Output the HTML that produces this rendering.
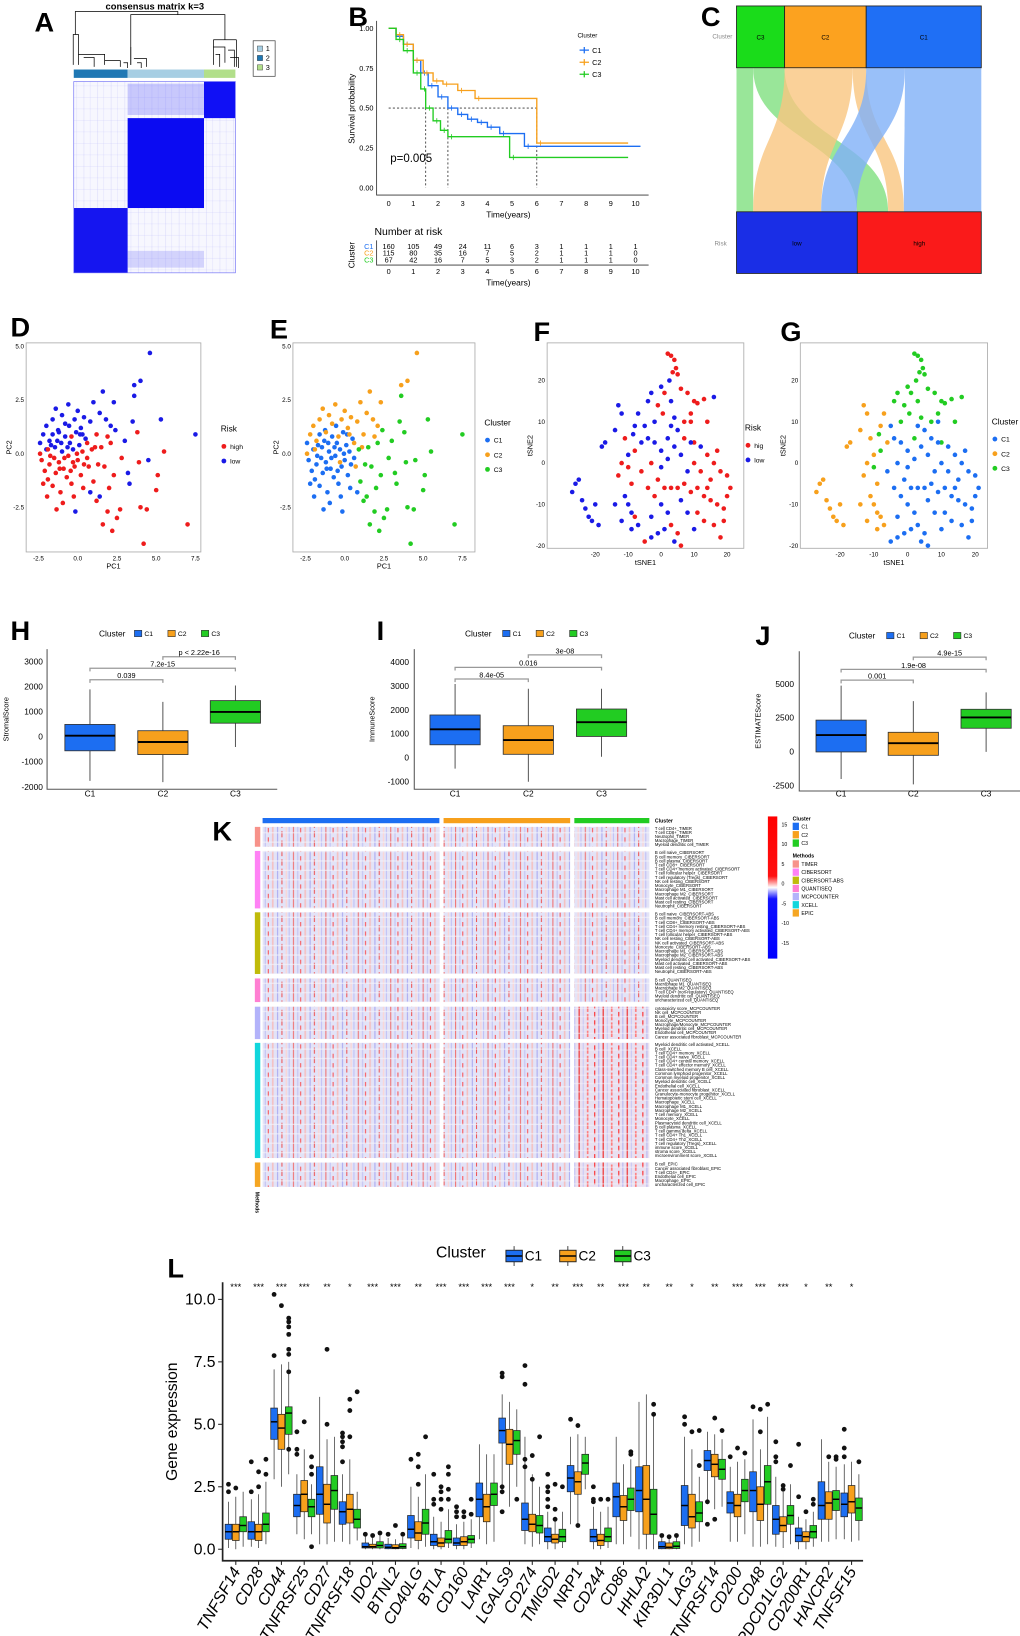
<!DOCTYPE html>
<html><head><meta charset="utf-8">
<style>
html,body{margin:0;padding:0;background:#fff;}
svg{display:block;}
text{font-family:"Liberation Sans",sans-serif;}
.n{font-family:"Liberation Sans Narrow","Liberation Sans",sans-serif;}
.lt{font-weight:bold;font-family:"Liberation Sans",sans-serif;}
</style></head>
<body>
<svg id="fig" xmlns="http://www.w3.org/2000/svg" width="1020" height="1636" viewBox="0 0 975 1565" preserveAspectRatio="none">
<defs>
<pattern id="hmA" width="13" height="11" patternUnits="userSpaceOnUse">
<rect width="13" height="11" fill="#f7f7fe"/>
<rect x="2" width="0.5" height="11" fill="#9d9df6" opacity="0.35"/>
<rect x="8" width="0.4" height="11" fill="#b5b5fa" opacity="0.4"/>
<rect y="5" width="13" height="0.4" fill="#a9a9f7" opacity="0.35"/>
</pattern>
<pattern id="hmK" width="31" height="9" patternUnits="userSpaceOnUse">
<rect width="31" height="9" fill="#e3e3f7"/>
<rect x="1" width="1" height="9" fill="#f07070"/>
<rect x="5" width="1.2" height="9" fill="#c6c6f4"/>
<rect x="8" y="0" width="0.8" height="5" fill="#ff3030"/>
<rect x="12" width="1.5" height="9" fill="#f5c0c0"/>
<rect x="17" width="0.8" height="9" fill="#9a9af0"/>
<rect x="21" y="3" width="1" height="6" fill="#ee5555"/>
<rect x="25" width="1.3" height="9" fill="#fbd6d6"/>
<rect x="28" width="0.7" height="9" fill="#b0b0f5"/>
<rect y="4" width="31" height="1.2" fill="#f4f4fc" opacity="0.7"/>
</pattern>
<pattern id="hmK3" width="23" height="8" patternUnits="userSpaceOnUse">
<rect width="23" height="8" fill="#e9e0f0"/>
<rect x="1" width="1.2" height="8" fill="#f03a3a"/>
<rect x="5" width="1" height="8" fill="#c8c8f6"/>
<rect x="9" y="2" width="1.5" height="6" fill="#f77"/>
<rect x="16" width="1" height="5" fill="#ff2020"/>
<rect x="20" width="0.8" height="8" fill="#a8a8f2"/>
<rect y="4" width="23" height="1" fill="#f4f4fc" opacity="0.6"/>
</pattern>
<linearGradient id="cbar" x1="0" y1="0" x2="0" y2="1">
<stop offset="0" stop-color="#ff0000"/><stop offset="0.42" stop-color="#ff1010"/>
<stop offset="0.5" stop-color="#ffffff"/><stop offset="0.58" stop-color="#1010ff"/>
<stop offset="1" stop-color="#0000ff"/>
</linearGradient>
</defs>

<!-- Panel A -->
<g id="pA">
<text class="n" x="148" y="9" font-size="9" text-anchor="middle" font-weight="bold">consensus matrix k=3</text>
<g stroke="#000" stroke-width="0.7" fill="none">
<path d="M72 33 V11 H170 V14"/>
<path d="M125 62 V14 H215 V38"/>
<path d="M72 33 H75 V62 M72 33 H70 V62 M75 52 H100 V62 M80 55 H90 V64 M100 58 H115 V64 M118 60 H122 V65"/>
<path d="M125 45 V62 M128 56 H140 V64 M131 60 H135 V65"/>
<path d="M204 38 H226 M204 38 V62 M226 38 V64 M204 45 H215 V60 M206 52 H210 V64 M218 48 H224 V64 M220 55 H228 V65"/>
</g>
<rect x="70.5" y="66.5" width="51.5" height="8" fill="#1f78b4"/>
<rect x="122" y="66.5" width="73" height="8" fill="#a6cee3"/>
<rect x="195" y="66.5" width="30" height="8" fill="#b2df8a"/>
<rect x="70.5" y="78" width="154.5" height="183" fill="url(#hmA)"/>
<rect x="122" y="80" width="73" height="30" fill="#7070f8" opacity="0.35"/>
<rect x="195" y="78" width="30" height="35" fill="#1010f5"/>
<rect x="122" y="113" width="73" height="86" fill="#0b0bf2"/>
<rect x="70.5" y="199" width="51.5" height="62" fill="#1515f0"/>
<rect x="122" y="240" width="73" height="16" fill="#8080f8" opacity="0.3"/>
<rect x="70.5" y="78" width="154.5" height="183" fill="none" stroke="#6a6af5" stroke-width="0.6"/>
<rect x="242" y="39" width="21" height="34" fill="#fff" stroke="#444" stroke-width="0.7"/>
<rect x="246" y="44" width="5" height="5" fill="#a6cee3" stroke="#333" stroke-width="0.4"/>
<text class="n" x="254" y="49" font-size="7">1</text>
<rect x="246" y="53" width="5" height="5" fill="#1f78b4" stroke="#333" stroke-width="0.4"/>
<text class="n" x="254" y="58" font-size="7">2</text>
<rect x="246" y="62" width="5" height="5" fill="#b2df8a" stroke="#333" stroke-width="0.4"/>
<text class="n" x="254" y="67" font-size="7">3</text>
</g>

<!-- Panel C alluvial -->
<g id="pC">
<text x="681" y="37" font-size="6" fill="#888">Cluster</text>
<text x="683" y="235" font-size="6" fill="#888">Risk</text>
</g>

<g id="pB"></g>
<g id="pScatter"></g>
<g id="pBox"></g>
<g id="pK"></g>
<g id="pL"></g>

<!-- panel letters -->
<text class="lt" x="33" y="30" font-size="26">A</text>
<text class="lt" x="333" y="25" font-size="26">B</text>
<text class="lt" x="670" y="25" font-size="26">C</text>
<text class="lt" x="10" y="322" font-size="26">D</text>
<text class="lt" x="258" y="324" font-size="26">E</text>
<text class="lt" x="510" y="326" font-size="26">F</text>
<text class="lt" x="746" y="326" font-size="26">G</text>
<text class="lt" x="10" y="612" font-size="26">H</text>
<text class="lt" x="360" y="612" font-size="26">I</text>
<text class="lt" x="722" y="617" font-size="26">J</text>
<text class="lt" x="203" y="804" font-size="26">K</text>
<text class="lt" x="160" y="1222" font-size="26">L</text>
</svg>

<script>
const NS="http://www.w3.org/2000/svg";
function mk(tag,attrs,parent){const e=document.createElementNS(NS,tag);for(const k in attrs)e.setAttribute(k,attrs[k]);parent.appendChild(e);return e;}
function tx(parent,x,y,s,attrs){const e=mk('text',Object.assign({x:x,y:y},attrs||{}),parent);e.textContent=s;return e;}
const COL={1:'#1c6ef2',2:'#f7a01c',3:'#22cc22'};

/* ===== Panel C data ===== */
const topBoxes=[['C3',704,750,'#1adc1a'],['C2',750,828,'#fca21f'],['C1',828,938,'#1f6ff5']];
const botBoxes=[['low',704,819.5,'#1a2ee6'],['high',819.5,938,'#fa1a1a']];
const flows=[[704,720,704,720,'#7fe07f'],[720,750,819,849,'#7fe07f'],[750,815,720,785,'#f9c680'],[815,828,849,864,'#f9c680'],[828,865,785,819,'#7fb0f7'],[865,938,864,938,'#7fb0f7']];
(function(){
const g=document.getElementById('pC');
flows.forEach(f=>{const yt=64.8,yb=202.6,ym=(yt+yb)/2;
const p=mk('path',{d:`M${f[0]} ${yt} C${f[0]} ${ym} ${f[2]} ${ym} ${f[2]} ${yb} L${f[3]} ${yb} C${f[3]} ${ym} ${f[1]} ${ym} ${f[1]} ${yt} Z`,fill:f[4],opacity:0.8},g);

});
topBoxes.forEach(b=>{const r=mk('rect',{x:b[1],y:5.7,width:b[2]-b[1],height:59.1,fill:b[3],stroke:'#222','stroke-width':0.8},g);


const t=tx(g,(b[1]+b[2])/2,38,b[0],{'font-size':6,'text-anchor':'middle'});

});
botBoxes.forEach(b=>{const r=mk('rect',{x:b[1],y:202.6,width:b[2]-b[1],height:59,fill:b[3],stroke:'#222','stroke-width':0.8},g);


const t=tx(g,(b[1]+b[2])/2,235,b[0],{'font-size':6,'text-anchor':'middle'});

});
})();

/* ===== Panel B data ===== */
const kmTimeC1=[0,0.3,0.6,1,1.3,1.6,2,2.4,2.8,3.2,3.6,4,4.5,5.5,10.2];
const kmSurvC1=[1,0.95,0.9,0.8,0.72,0.64,0.57,0.5,0.46,0.43,0.41,0.38,0.34,0.26,0.26];
const kmTimeC2=[0,0.3,0.6,1,1.4,1.8,2.2,2.8,3.5,6,9.7];
const kmSurvC2=[1,0.96,0.9,0.8,0.72,0.67,0.65,0.61,0.56,0.28,0.28];
const kmTimeC3=[0,0.3,0.6,1,1.3,1.5,1.8,2.1,2.4,4.9,9.7];
const kmSurvC3=[1,0.93,0.86,0.72,0.62,0.5,0.42,0.36,0.32,0.19,0.19];
const kmXTicks=[0,1,2,3,4,5,6,7,8,9,10];
const kmYTicks=[0,0.25,0.5,0.75,1];
const riskC1=[160,105,49,24,11,6,3,1,1,1,1];
const riskC2=[115,80,35,16,7,5,2,1,1,1,0];
const riskC3=[67,42,16,7,5,3,2,1,1,1,0];
const medians=[1.5,2.4,6];
(function(){
const g=document.getElementById('pB');
const xB=t=>371.5+t*23.6, yB=s=>179.6-s*152.5;
let a=mk('path',{d:'M360 20 V186.6 H620',stroke:'#333',fill:'none','stroke-width':0.8},g);


kmYTicks.forEach(v=>{const t=tx(g,357,yB(v)+2.5,v.toFixed(2),{class:'n','font-size':7,'text-anchor':'end'});

});
kmXTicks.forEach(v=>{const t=tx(g,xB(v),197,String(v),{class:'n','font-size':7,'text-anchor':'middle'});


const t2=tx(g,xB(v),262,String(v),{class:'n','font-size':7,'text-anchor':'middle'});

});
let t=tx(g,486,208,'Time(years)',{class:'n','font-size':8,'text-anchor':'middle'});


t=tx(g,486,273,'Time(years)',{class:'n','font-size':8,'text-anchor':'middle'});


t=tx(g,0,0,'Survival probability',{'font-size':8,'text-anchor':'middle',transform:'translate(339,104) rotate(-90)'});


let d='M'+xB(0)+' '+yB(0.5)+' H'+xB(6);
medians.forEach(m=>{d+=' M'+xB(m)+' '+yB(0.5)+' V'+yB(0);});
a=mk('path',{d:d,stroke:'#333','stroke-dasharray':'2,2',fill:'none','stroke-width':0.8},g);


[[kmTimeC1,kmSurvC1,1],[kmTimeC2,kmSurvC2,2],[kmTimeC3,kmSurvC3,3]].forEach(s=>{
let p='M'+xB(s[0][0])+' '+yB(s[1][0]);
for(let i=1;i<s[0].length;i++){p+=' H'+xB(s[0][i])+' V'+yB(s[1][i]);}
const l=mk('path',{d:p,stroke:COL[s[2]],fill:'none','stroke-width':1.3},g);


for(let i=1;i<s[0].length-1;i++){const c=mk('path',{d:`M${xB(s[0][i]+0.15)} ${yB(s[1][i])-2.5} v5`,stroke:COL[s[2]],'stroke-width':0.8},g);

}
});
t=tx(g,373,155,'p=0.005',{class:'n','font-size':11});


t=tx(g,552,36,'Cluster',{class:'n','font-size':6});


[1,2,3].forEach((c,i)=>{const y=48+i*11.5;
const l=mk('path',{d:`M554 ${y} h9 M558.5 ${y-3} v6`,stroke:COL[c],'stroke-width':1.2},g);


const tt=tx(g,566,y+2.5,'C'+c,{class:'n','font-size':7});

});
t=tx(g,358,225,'Number at risk',{class:'n','font-size':10});


t=tx(g,0,0,'Cluster',{'font-size':8,'text-anchor':'middle',transform:'translate(339,244) rotate(-90)'});


a=mk('path',{d:'M360 230 V253.6 H620',stroke:'#333',fill:'none','stroke-width':0.8},g);


[riskC1,riskC2,riskC3].forEach((row,ri)=>{const y=238+ri*6.5;
const lab=tx(g,357,y,'C'+(ri+1),{class:'n','font-size':7,'text-anchor':'end',fill:COL[ri+1]});


row.forEach((v,i)=>{const tt=tx(g,xB(kmXTicks[i]),y,String(v),{class:'n','font-size':7,'text-anchor':'middle'});

});});
})();

/* ===== Scatter data: [x, y, risk(h/l), cluster] ===== */
const pcaPoints=[
[-2.3,-0.3,'h',1],[-2.1,-0.8,'h',1],[-2.0,0.2,'l',1],[-1.9,-1.2,'h',1],[-1.8,-0.5,'h',1],[-1.7,0.4,'l',1],[-1.6,-1.5,'h',1],[-1.5,-0.2,'h',1],[-1.4,-0.9,'h',1],[-1.3,0.6,'l',1],
[-1.2,-0.4,'h',1],[-1.1,-1.8,'h',1],[-1.0,0.1,'l',1],[-0.9,-0.7,'h',1],[-0.8,0.8,'l',1],[-0.7,-1.1,'h',1],[-0.6,-0.1,'h',1],[-0.5,0.5,'l',1],[-0.4,-1.4,'h',1],[-0.3,0.2,'l',1],
[-0.2,-0.6,'h',1],[-0.1,1.0,'l',1],[0.0,-0.3,'h',1],[0.1,0.4,'l',1],[0.2,-1.0,'h',1],[0.3,0.1,'h',1],[0.4,-0.5,'h',1],[0.5,0.7,'l',1],[-2.2,-1.4,'h',1],[-1.95,-2.0,'h',1],
[-1.6,0.9,'l',1],[-1.25,1.1,'l',1],[-0.95,-2.3,'h',1],[-0.55,1.3,'l',1],[-0.25,-2.0,'h',1],[0.15,0.9,'l',1],[-1.75,-0.1,'h',1],[-1.45,0.3,'l',1],[-1.15,-0.7,'h',1],[-0.85,-0.2,'h',1],
[-0.45,-0.8,'h',1],[-0.05,0.0,'h',1],[0.35,-1.6,'h',1],[-2.4,0.5,'l',1],[-1.05,0.5,'l',1],[-0.65,0.3,'l',1],[0.6,-0.2,'h',1],[0.8,-1.8,'l',1],[-1.35,-2.6,'h',1],[-0.15,-2.7,'l',1],
[-2.2,0.9,'l',2],[-2.0,1.3,'l',2],[-1.8,0.6,'l',2],[-1.6,1.6,'l',2],[-1.4,2.1,'l',2],[-1.2,1.0,'l',2],[-1.0,1.8,'l',2],[-0.8,1.4,'l',2],[-0.6,2.3,'l',2],[-0.4,0.8,'h',2],
[-0.2,1.6,'l',2],[0.0,2.0,'l',2],[0.2,1.2,'l',2],[0.4,1.7,'l',2],[0.6,0.5,'h',2],[0.8,1.5,'l',2],[1.0,2.4,'l',2],[1.2,0.9,'h',2],[1.4,1.9,'l',2],[1.6,2.9,'l',2],
[1.8,1.6,'l',2],[-1.9,0.2,'h',2],[-0.3,-0.4,'h',2],[0.7,-0.6,'h',2],[3.6,3.2,'l',2],[4.0,3.4,'l',2],[4.6,4.7,'l',2],[-2.4,0.0,'h',2],[0.3,0.9,'l',2],[1.1,0.3,'h',2],
[2.1,1.3,'l',2],[2.3,2.4,'l',2],[1.9,0.8,'h',2],
[1.0,-1.3,'h',3],[1.2,-2.2,'h',3],[1.5,0.3,'h',3],[1.7,-0.6,'h',3],[1.9,-2.7,'h',3],[2.1,0.5,'h',3],[2.3,-1.0,'h',3],[2.5,-3.0,'h',3],[2.7,-2.6,'h',3],[3.0,0.6,'l',3],
[3.2,-0.9,'l',3],[3.5,1.5,'l',3],[3.8,1.0,'h',3],[4.0,-2.5,'h',3],[4.2,-4.2,'h',3],[4.5,-0.3,'l',3],[5.0,-1.7,'h',3],[5.3,1.6,'l',3],[5.5,0.1,'h',3],[5.1,-1.0,'h',3],
[7.0,-3.3,'h',3],[7.5,0.9,'l',3],[2.0,-1.6,'h',3],[2.8,-0.2,'h',3],[3.6,2.7,'l',3],[2.4,1.1,'l',3],[1.4,-2.0,'l',3],[1.6,-3.3,'h',3],[3.3,-1.4,'l',3],[4.4,-2.6,'h',3],
[0.9,0.2,'h',3],[1.3,-0.5,'h',3],[2.2,-3.6,'h',3],[3.9,-0.4,'h',3]];
const tsnePoints=[
[2,26.5,'h',3],[3,26,'h',3],[4,25,'h',3],[3.5,22,'h',3],[4.5,23,'h',3],[5,21.5,'h',3],[2.5,20,'l',3],[0,18.5,'l',3],[1,17,'h',3],[-3,17,'l',3],
[-4,15,'l',3],[-1,14,'h',3],[0.5,12,'h',3],[3,15,'l',3],[6,18,'h',3],[8,17,'h',3],[10,15,'h',3],[11,14.5,'h',3],[13,15.5,'h',3],[16,16,'l',3],
[9,12,'h',3],[7,10,'h',3],[4,11,'l',3],[14,10,'h',3],[-2,10,'l',3],[-8.5,7,'l',3],[-8,3,'h',3],[-10,-1,'h',3],[10,5,'h',3],[2,6,'l',3],
[-27,-7,'l',2],[-26,-5,'l',2],[-25,-4,'l',2],[-24,-9,'l',2],[-23,-11,'l',2],[-22,-13,'l',2],[-21,-14,'l',2],[-20,-10,'l',2],[-19,-15,'l',2],[-18,4,'l',2],
[-17,5,'l',2],[-13,14,'l',2],[-12,12,'l',2],[-14,8,'l',2],[-11,6,'h',2],[-10,2,'l',2],[-12,0,'h',2],[-13,-3,'h',2],[-11,-8,'l',2],[-10,-10,'l',2],
[-9,-12,'l',2],[-12,-14,'l',2],[-8,-13,'h',2],[-7,-15,'l',2],[-9,-16,'l',2],[-14,-10,'l',2],[-8,9,'l',2],[-7,12,'l',2],[-6,5,'l',2],[-9,-5,'h',2],
[-5,-19,'h',1],[-3,-18,'l',1],[-1,-17,'l',1],[1,-16,'l',1],[3,-15,'h',1],[5,-17,'h',1],[6,-20,'h',1],[4,-19,'l',1],[2,-12,'l',1],[0,-10,'l',1],
[-2,-8,'h',1],[-4,-6,'h',1],[-1,-4,'h',1],[1,-6,'h',1],[3,-6,'h',1],[5,-6,'h',1],[7,-5,'h',1],[9,-7,'h',1],[11,-6,'h',1],[13,-8,'h',1],
[15,-9,'h',1],[17,-10,'h',1],[19,-11,'h',1],[20,-8,'h',1],[21,-6,'h',1],[20,-3,'h',1],[18,-2,'h',1],[16,0,'h',1],[14,2,'h',1],[12,4,'l',1],
[10,0,'h',1],[8,-2,'l',1],[6,2,'l',1],[4,4,'l',1],[2,1,'l',1],[0,3,'l',1],[-2,5,'l',1],[-4,6,'l',1],[-3,0,'h',1],[5,8,'l',1],
[7,6,'h',1],[9,10,'h',1],[11,-12,'h',1],[13,-14,'h',1],[15,-4,'h',1],[17,3,'h',1],[19,-14,'h',1],[18,-18,'h',1],[8,-12,'l',1],[6,-9,'l',1],
[-3,-13,'l',1],[-6,-2,'h',1],[0,-1,'l',1],[12,-2,'h',1],[14,-6,'h',1],[9,5,'l',1],[3,9,'l',1],[-5,9,'l',1],[16,-15,'h',1],[10,-16,'l',1]];
const pcaXTicks=[-2.5,0,2.5,5,7.5];
const pcaYTicks=[-2.5,0,2.5,5];
const tsneXTicks=[-20,-10,0,10,20];
const tsneYTicks=[-20,-10,0,10,20];
(function(){
const g=document.getElementById('pScatter');
const riskCol={h:'#ee1c1c',l:'#1a1ae6'};
const panels=[
{n:'d',pts:pcaPoints,fx:v=>74.3+v*15.0,fy:v=>434-v*20.5,box:[25,328,192,528],xt:pcaXTicks,yt:pcaYTicks,xl:'PC1',yl:'PC2',mode:'r',leg:[211,413,'Risk'],fmt:v=>v.toFixed(1)},
{n:'e',pts:pcaPoints,fx:v=>329.5+v*15.0,fy:v=>434-v*20.5,box:[280,328,454,528],xt:pcaXTicks,yt:pcaYTicks,xl:'PC1',yl:'PC2',mode:'c',leg:[463,407,'Cluster'],fmt:v=>v.toFixed(1)},
{n:'f',pts:tsnePoints,fx:v=>632+v*3.15,fy:v=>443-v*3.95,box:[523,328,711,524.5],xt:tsneXTicks,yt:tsneYTicks,xl:'tSNE1',yl:'tSNE2',mode:'r',leg:[712,412,'Risk'],fmt:v=>String(v)},
{n:'g',pts:tsnePoints,fx:v=>867.6+v*3.23,fy:v=>443-v*3.95,box:[765,328,944,524.5],xt:tsneXTicks,yt:tsneYTicks,xl:'tSNE1',yl:'tSNE2',mode:'c',leg:[948,406,'Cluster'],fmt:v=>String(v)}];
panels.forEach(P=>{const b=P.box;
const fr=mk('rect',{x:b[0],y:b[1],width:b[2]-b[0],height:b[3]-b[1],fill:'none',stroke:'#aaa','stroke-width':0.8},g);


P.xt.forEach(v=>{const t=tx(g,P.fx(v),b[3]+8,P.fmt(v),{class:'n','font-size':6,'text-anchor':'middle'});

});
P.yt.forEach(v=>{const t=tx(g,b[0]-2,P.fy(v)+2,P.fmt(v),{class:'n','font-size':6,'text-anchor':'end'});

});
let t=tx(g,(b[0]+b[2])/2,b[3]+16,P.xl,{'font-size':7,'text-anchor':'middle'});


t=tx(g,0,0,P.yl,{'font-size':7,'text-anchor':'middle',transform:`translate(${b[0]-14},${(b[1]+b[3])/2}) rotate(-90)`});


P.pts.forEach(p=>{const c=mk('circle',{cx:P.fx(p[0]),cy:P.fy(p[1]),r:2.2,fill:P.mode==='r'?riskCol[p[2]]:COL[p[3]]},g);

});
t=tx(g,P.leg[0],P.leg[1],P.leg[2],{class:'n','font-size':8});


const items=P.mode==='r'?[['high','#ee1c1c'],['low','#1a1ae6']]:[['C1',COL[1]],['C2',COL[2]],['C3',COL[3]]];
items.forEach((it,i)=>{const y=P.leg[1]+14+i*14;
const c=mk('circle',{cx:P.leg[0]+3,cy:y,r:2.3,fill:it[1]},g);


const tt=tx(g,P.leg[0]+9,y+2.5,(P.n==='f'&&it[0]==='high')?'hig':it[0],{class:'n','font-size':6.5});

});
});
})();

/* ===== Boxplots H-J: [lower, q1, median, q3, upper] ===== */
const stromalC1=[-1750,-550,50,500,1900], stromalC2=[-1800,-700,-200,250,1400], stromalC3=[-400,550,1000,1450,2050];
const immuneC1=[-450,550,1200,1800,3100], immuneC2=[-1000,150,750,1350,2900], immuneC3=[50,900,1500,2050,2900];
const estimateC1=[-2000,0,1250,2350,4900], estimateC2=[-2400,-250,650,1450,3750], estimateC3=[0,1750,2550,3150,4400];
const stromalTicks=[-2000,-1000,0,1000,2000,3000];
const immuneTicks=[-1000,0,1000,2000,3000,4000];
const estimateTicks=[-2500,0,2500,5000];
const stromalP=['0.039','7.2e-15','p < 2.22e-16'], stromalPy=[2280,2740,3200];
const immuneP=['8.4e-05','0.016','3e-08'], immunePy=[3310,3800,4320];
const estimateP=['0.001','1.9e-08','4.9e-15'], estimatePy=[5300,6100,7000];
(function(){
const g=document.getElementById('pBox');
const panels=[
{n:'stromal',title:'StromalScore',data:[stromalC1,stromalC2,stromalC3],ticks:stromalTicks,p:stromalP,py:stromalPy,y:v=>705-v*0.024,xs:[86,155.7,225],ax:45,top:621,bot:755,right:265,tlx:41,ytx:8,leg:[94.6,606,132]},
{n:'immune',title:'ImmuneScore',data:[immuneC1,immuneC2,immuneC3],ticks:immuneTicks,p:immuneP,py:immunePy,y:v=>725-v*0.0228,xs:[435,505,575],ax:396,top:621,bot:755,right:618,tlx:391,ytx:358,leg:[444.5,606,484]},
{n:'estimate',title:'ESTIMATEScore',data:[estimateC1,estimateC2,estimateC3],ticks:estimateTicks,p:estimateP,py:estimatePy,y:v=>719.3-v*0.01295,xs:[804,873,942.6],ax:764,top:623,bot:756.7,right:975,tlx:759,ytx:727,leg:[811.4,608,851]}];
panels.forEach(P=>{
let a=mk('path',{d:`M${P.ax} ${P.top} V${P.bot} H${P.right}`,stroke:'#555',fill:'none','stroke-width':1},g);


P.ticks.forEach(v=>{const t=tx(g,P.tlx,P.y(v)+2.5,String(v),{class:'n','font-size':8,'text-anchor':'end'});

});
let t=tx(g,0,0,P.title,{'font-size':7,'text-anchor':'middle',transform:`translate(${P.ytx},${(P.top+P.bot)/2}) rotate(-90)`});


P.data.forEach((d,i)=>{const x=P.xs[i],w=48;
const wh=mk('path',{d:`M${x} ${P.y(d[0])} V${P.y(d[1])} M${x} ${P.y(d[3])} V${P.y(d[4])}`,stroke:'#333','stroke-width':0.8},g);


const r=mk('rect',{x:x-w/2,y:P.y(d[3]),width:w,height:P.y(d[1])-P.y(d[3]),fill:COL[i+1],stroke:'#333','stroke-width':0.8},g);


const m=mk('path',{d:`M${x-w/2} ${P.y(d[2])} h${w}`,stroke:'#000','stroke-width':1.8},g);


const lb=tx(g,x,762,'C'+(i+1),{class:'n','font-size':8,'text-anchor':'middle'});

});
const pairs=[[0,1],[0,2],[1,2]];
pairs.forEach((pr,k)=>{const yy=P.y(P.py[k]);
const br=mk('path',{d:`M${P.xs[pr[0]]} ${yy+3} V${yy} H${P.xs[pr[1]]} V${yy+3}`,stroke:'#999',fill:'none','stroke-width':1.2},g);


const pt=tx(g,(P.xs[pr[0]]+P.xs[pr[1]])/2,yy-1.5,P.p[k],{class:'n','font-size':7,'text-anchor':'middle'});

});
t=tx(g,P.leg[0],P.leg[1]+3,'Cluster',{class:'n','font-size':8});


[1,2,3].forEach((c,i)=>{const x=P.leg[2]+i*32;
const r=mk('rect',{x:x-3.5,y:P.leg[1]-3,width:7,height:6,fill:COL[c],stroke:'#333','stroke-width':0.6},g);


const tt=tx(g,x+6,P.leg[1]+2.5,'C'+c,{class:'n','font-size':6.5});

});
});
})();

/* ===== Panel K heatmap ===== */
const methodNames=['TIMER','CIBERSORT','CIBERSORT-ABS','QUANTISEQ','MCPCOUNTER','XCELL','EPIC'];
const methodColors=['#f7928a','#ff82f5','#c0bb0a','#ff7fd2','#b3b3fa','#11d6dc','#f5a623'];
const methodRows=[
['T cell CD4+_TIMER','T cell CD8+_TIMER','Neutrophil_TIMER','Macrophage_TIMER','Myeloid dendritic cell_TIMER'],
['B cell naive_CIBERSORT','B cell memory_CIBERSORT','B cell plasma_CIBERSORT','T cell CD8+_CIBERSORT','T cell CD4+ memory activated_CIBERSORT','T cell follicular helper_CIBERSORT','T cell regulatory (Tregs)_CIBERSORT','NK cell resting_CIBERSORT','Monocyte_CIBERSORT','Macrophage M1_CIBERSORT','Macrophage M2_CIBERSORT','Mast cell activated_CIBERSORT','Mast cell resting_CIBERSORT','Neutrophil_CIBERSORT'],
['B cell naive_CIBERSORT-ABS','B cell memory_CIBERSORT-ABS','T cell CD8+_CIBERSORT-ABS','T cell CD4+ memory resting_CIBERSORT-ABS','T cell CD4+ memory activated_CIBERSORT-ABS','T cell follicular helper_CIBERSORT-ABS','NK cell resting_CIBERSORT-ABS','NK cell activated_CIBERSORT-ABS','Monocyte_CIBERSORT-ABS','Macrophage M1_CIBERSORT-ABS','Macrophage M2_CIBERSORT-ABS','Myeloid dendritic cell activated_CIBERSORT-ABS','Mast cell activated_CIBERSORT-ABS','Mast cell resting_CIBERSORT-ABS','Neutrophil_CIBERSORT-ABS'],
['B cell_QUANTISEQ','Macrophage M1_QUANTISEQ','Macrophage M2_QUANTISEQ','T cell CD4+ (non-regulatory)_QUANTISEQ','Myeloid dendritic cell_QUANTISEQ','uncharacterized cell_QUANTISEQ'],
['cytotoxicity score_MCPCOUNTER','NK cell_MCPCOUNTER','B cell_MCPCOUNTER','Monocyte_MCPCOUNTER','Macrophage/Monocyte_MCPCOUNTER','Myeloid dendritic cell_MCPCOUNTER','Endothelial cell_MCPCOUNTER','Cancer associated fibroblast_MCPCOUNTER'],
['Myeloid dendritic cell activated_XCELL','B cell_XCELL','T cell CD4+ memory_XCELL','T cell CD4+ naive_XCELL','T cell CD4+ central memory_XCELL','T cell CD4+ effector memory_XCELL','Class-switched memory B cell_XCELL','Common lymphoid progenitor_XCELL','Common myeloid progenitor_XCELL','Myeloid dendritic cell_XCELL','Endothelial cell_XCELL','Cancer associated fibroblast_XCELL','Granulocyte-monocyte progenitor_XCELL','Hematopoietic stem cell_XCELL','Macrophage_XCELL','Macrophage M1_XCELL','Macrophage M2_XCELL','T cell memory_XCELL','Monocyte_XCELL','Plasmacytoid dendritic cell_XCELL','B cell plasma_XCELL','T cell gamma delta_XCELL','T cell CD4+ Th1_XCELL','T cell CD4+ Th2_XCELL','T cell regulatory (Tregs)_XCELL','immune score_XCELL','stroma score_XCELL','microenvironment score_XCELL'],
['B cell_EPIC','Cancer associated fibroblast_EPIC','T cell CD4+_EPIC','Endothelial cell_EPIC','Macrophage_EPIC','uncharacterized cell_EPIC']];
const groupTop=[791,814,872.7,936,963,997.6,1112];
const groupBot=[810,869,931.7,958.6,994,1107.8,1135.4];
const clusterCols=[[251,420],[424,545],[549,620.7]];
const cbTicks=[15,10,5,0,-5,-10,-15];
(function(){
const g=document.getElementById('pK');
clusterCols.forEach((c,i)=>{const r=mk('rect',{x:c[0],y:782.5,width:c[1]-c[0],height:5,fill:COL[i+1]},g);

});
let t=tx(g,626,787,'Cluster',{'font-size':5,'font-weight':'bold'});


methodNames.forEach((m,gi)=>{const y0=groupTop[gi],y1=groupBot[gi];
const s=mk('rect',{x:243.6,y:y0,width:5.2,height:y1-y0,fill:methodColors[gi]},g);


clusterCols.forEach((c,ci)=>{const r=mk('rect',{x:c[0],y:y0,width:c[1]-c[0],height:y1-y0,fill:(ci===2&&(gi===4||gi===5||gi===6))?'url(#hmK3)':'url(#hmK)'},g);

});
const rows=methodRows[gi],h=(y1-y0)/rows.length;
rows.forEach((rn,ri)=>{const tt=tx(g,626,y0+h*(ri+0.8),rn,{'font-size':Math.min(4.2,h*1.05)});

});});
t=tx(g,0,0,'Methods',{'font-size':5,'font-weight':'bold',transform:'translate(244,1140) rotate(90)'});


const cb=mk('rect',{x:734,y:781,width:9,height:136,fill:'url(#cbar)'},g);


cbTicks.forEach((v,i)=>{const tt=tx(g,747,790.5+i*18.9,String(v),{'font-size':5});

});
t=tx(g,757.7,785,'Cluster',{'font-size':5,'font-weight':'bold'});


[1,2,3].forEach((c,i)=>{const r=mk('rect',{x:757.7,y:787+i*8,width:6,height:7,fill:COL[c]},g);


const tt=tx(g,766,792.5+i*8,'C'+c,{'font-size':5});

});
t=tx(g,757.7,820.5,'Methods',{'font-size':5,'font-weight':'bold'});


methodNames.forEach((m,i)=>{const r=mk('rect',{x:757.7,y:823+i*7.8,width:6,height:7,fill:methodColors[i]},g);


const tt=tx(g,766,828.5+i*7.8,m,{'font-size':5});

});
})();

/* ===== Panel L ===== */
const genes=['TNFSF14','CD28','CD44','TNFRSF25','CD27','TNFRSF18','IDO2','BTNL2','CD40LG','BTLA','CD160','LAIR1','LGALS9','CD274','TMIGD2','NRP1','CD244','CD86','HHLA2','KIR3DL1','LAG3','TNFRSF14','CD200','CD48','PDCD1LG2','CD200R1','HAVCR2','TNFSF15'];
const sig=['***','***','***','***','**','*','***','***','**','***','***','***','***','*','**','***','**','***','**','**','*','**','***','***','***','*','**','*'];
const geneC1=[[0.05,0.4,0.7,1.0,1.9],[0.1,0.4,0.7,1.1,2.0],[2.8,4.4,5.1,5.65,7.2],[0.6,1.3,1.75,2.2,3.0],[0.2,1.4,2.2,3.3,6.1],[0.3,1.0,1.5,1.9,3.0],[0,0.05,0.1,0.25,0.55],[0,0.02,0.08,0.2,0.45],[0.05,0.45,0.8,1.35,2.5],[0,0.15,0.3,0.6,1.3],[0,0.15,0.25,0.45,1.0],[0.4,1.3,2.0,2.65,4.2],[2.2,4.25,4.75,5.25,6.2],[0.2,0.75,1.2,1.85,4.5],[0,0.3,0.5,0.85,1.5],[1.0,2.3,2.85,3.35,4.5],[0,0.3,0.5,0.8,1.7],[0.2,1.3,2.1,2.65,4.5],[0,1.5,2.35,3.3,5.9],[0,0.02,0.1,0.3,0.6],[0.2,0.95,1.75,2.55,4.5],[1.8,3.15,3.55,3.95,4.7],[0.3,1.45,1.85,2.3,3.3],[0.1,1.5,2.35,3.1,5.2],[0.1,0.6,1.2,1.75,2.9],[0,0.3,0.55,0.85,1.3],[0.3,1.2,1.75,2.7,4.4],[0.4,1.3,1.8,2.25,3.4]];
const geneC2=[[0,0.35,0.7,1.0,2.1],[0.05,0.35,0.7,1.0,2.2],[2.5,4.0,4.85,5.4,7.4],[0.4,1.5,2.2,2.75,4.0],[0.2,1.05,1.8,2.6,4.4],[0.2,1.05,1.6,2.2,3.6],[0,0.05,0.1,0.2,0.5],[0,0.02,0.06,0.18,0.4],[0,0.35,0.65,1.1,2.1],[0,0.1,0.25,0.45,1.1],[0,0.15,0.3,0.5,1.1],[0.2,1.1,1.7,2.2,3.8],[1.7,3.4,4.2,4.8,5.9],[0.1,0.7,1.0,1.4,3.0],[0,0.25,0.4,0.6,1.3],[0.9,2.2,2.7,3.1,4.6],[0,0.15,0.35,0.6,1.5],[0.2,1.15,1.7,2.15,3.4],[0,0.6,2.0,3.35,6.2],[0,0.02,0.08,0.25,0.5],[0.1,0.85,1.3,2.2,4.0],[1.6,2.9,3.4,3.8,4.6],[0.3,1.3,1.75,2.2,3.5],[0.1,1.15,1.8,2.5,4.0],[0.05,0.7,0.95,1.3,2.3],[0,0.3,0.5,0.7,1.2],[0.3,1.2,1.85,2.3,3.5],[0.3,1.45,1.9,2.55,3.5]];
const geneC3=[[0.1,0.7,0.95,1.3,2.3],[0.2,0.7,1.0,1.45,2.7],[3.0,4.6,5.45,5.7,7.5],[0.6,1.3,1.7,2.0,2.6],[0.3,1.6,2.35,2.95,4.5],[0.35,0.85,1.2,1.6,2.3],[0,0.05,0.15,0.3,0.6],[0,0.03,0.1,0.22,0.5],[0.1,0.6,1.05,1.6,3.0],[0.05,0.25,0.4,0.75,1.6],[0.05,0.25,0.4,0.55,1.2],[0.3,1.75,2.2,2.65,3.8],[2.5,3.8,4.35,4.75,5.6],[0.2,0.65,0.95,1.35,2.5],[0.05,0.3,0.5,0.8,1.5],[2.4,3.0,3.45,3.8,4.5],[0.05,0.3,0.5,0.85,1.7],[0.5,1.55,2.0,2.45,3.6],[0,0.6,1.4,2.4,5.4],[0,0.03,0.12,0.3,0.6],[0.3,1.1,1.45,1.9,2.9],[1.7,2.8,3.2,3.6,4.4],[0.6,1.9,2.35,2.8,3.6],[0.2,1.8,2.7,3.35,5.3],[0.2,1.0,1.35,1.75,2.6],[0.1,0.45,0.7,0.95,1.5],[0.4,1.55,2.0,2.35,3.3],[0.35,1.15,1.65,2.05,3.0]];
const outC1=[[2.6,2.3],[3.5,2.3],[10.2,7.75],[4.7,4.0,3.8],[],[4.65,4.5,4.3,4.1,3.5],[0.6],[0.6],[3.6],[3.0,2.0,1.8],[1.7,1.5,1.3],[],[7.05,6.9,2.5,2.3,1.5],[7.35,6.6,3.6,3.3],[3.0,2.5,2.3,2.0,1.7],[5.2],[2.5,2.0,1.9],[],[],[0.55],[5.3,5.0],[1.9,1.0],[3.7],[5.7],[4.3,3.7,3.5],[4.2,2.1],[],[4.8,4.05,3.7]];
const outC2=[[2.45],[3.1,2.5],[9.75],[5.1],[8.0,5.0],[6.0,5.55,4.5],[0.55],[0.95],[3.8,3.3,2.6],[2.5,2.3,2.0,1.6],[1.5,1.3],[],[],[3.75,2.8],[2.6,1.6,1.2],[4.95,0.95],[2.0],[],[],[0.5],[4.7],[5.25,1.2],[4.05],[5.6,4.7],[2.55,2.4],[1.5],[3.7],[]];
const outC3=[[],[3.6,3.0],[9.25,9.1,8.9,8.6,8.0,7.8,7.1,4.0],[3.7,3.3,3.0,0.1],[],[6.3],[0.65],[0.6],[4.5],[3.3,3.0,2.4,2.0],[2.0,1.4],[],[2.0],[4.5],[2.5],[],[2.0],[3.9,3.8],[5.8,5.4],[0.55],[4.75,3.35],[4.75],[3.85],[5.8],[3.35],[2.0,1.8],[3.7,3.6],[3.5]];
const exprTicks=[0,2.5,5,7.5,10];
(function(){
const g=document.getElementById('pL');
const xL=i=>225.4+i*21.8, yL=v=>1482-v*23.9;
let t=tx(g,416.8,1203,'Cluster',{class:'n','font-size':15});


[1,2,3].forEach((c,i)=>{const x=[483.6,535,587.5][i];
const w=mk('path',{d:`M${x+7.8} 1192 v19`,stroke:'#222','stroke-width':0.8},g);


const r=mk('rect',{x:x,y:1196,width:15.7,height:11,fill:COL[c],stroke:'#222','stroke-width':0.9},g);


const m=mk('path',{d:`M${x} 1201.5 h15.7`,stroke:'#000','stroke-width':1.4},g);


const tt=tx(g,x+18,1206,'C'+c,{class:'n','font-size':13});

});
let a=mk('path',{d:'M212.8 1226.6 V1493 H825',stroke:'#222',fill:'none','stroke-width':1.6},g);


exprTicks.forEach(v=>{const tt=tx(g,206,yL(v)+5,v.toFixed(1),{class:'n','font-size':15,'text-anchor':'end'});


const tk=mk('path',{d:`M208.5 ${yL(v)} h4.3`,stroke:'#222','stroke-width':1},g);

});
t=tx(g,0,0,'Gene expression',{'font-size':15,'text-anchor':'middle',transform:'translate(169,1360) rotate(-90)'});


const sets=[geneC1,geneC2,geneC3],outs=[outC1,outC2,outC3],off=[-7,0,7],bw=6.4;
genes.forEach((gn,i)=>{const cx=xL(i);
sets.forEach((S,k)=>{const d=S[i],x=cx+off[k];
const wh=mk('path',{d:`M${x} ${yL(d[0])} V${yL(d[4])}`,stroke:'#333','stroke-width':0.7},g);


const r=mk('rect',{x:x-bw/2,y:yL(d[3]),width:bw,height:Math.max(0.8,yL(d[1])-yL(d[3])),fill:COL[k+1],stroke:'#222','stroke-width':0.7},g);


const m=mk('path',{d:`M${x-bw/2} ${yL(d[2])} h${bw}`,stroke:'#000','stroke-width':1.4},g);


outs[k][i].forEach(v=>{const c=mk('circle',{cx:x,cy:yL(v),r:2.3,fill:'#111'},g);

});});
const tk=mk('path',{d:`M${cx} 1493 v4`,stroke:'#222','stroke-width':1},g);


const st=tx(g,cx,1234,sig[i],{'font-size':9,'text-anchor':'middle'});


const lb=tx(g,0,0,gn,{'font-size':15.5,'text-anchor':'end','font-style':'italic',transform:`translate(${cx+5},1503) rotate(-60)`});

});
})();
</script>
</body></html>
